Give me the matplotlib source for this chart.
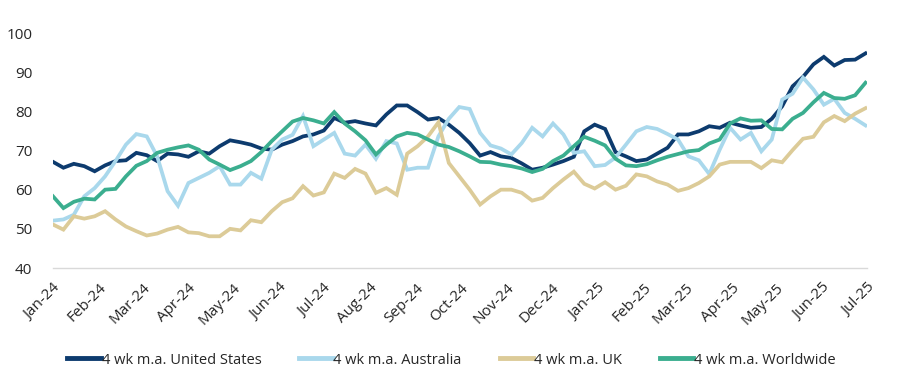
import numpy as np
import pandas as pd
import matplotlib
matplotlib.use("Agg")
import matplotlib.pyplot as plt
import matplotlib.dates as mdates

plt.rcParams['font.family'] = ['Open Sans', 'DejaVu Sans']

dates = pd.date_range("2024-01-01", periods=79, freq="7D")

us = [67.1, 65.6, 66.6, 66.0, 64.7, 66.2, 67.3, 67.5, 69.4, 68.8,
      67.3, 69.2, 69.0, 68.4, 69.8, 69.2, 71.1, 72.6, 72.1, 71.5,
      70.5, 70.2, 71.5, 72.4, 73.6, 74.1, 75.1, 78.3, 77.1, 77.5,
      76.9, 76.4, 79.2, 81.5, 81.5, 79.8, 77.9, 78.3, 76.6, 74.5,
      71.9, 68.7, 69.6, 68.5, 68.1, 66.7, 65.1, 65.6, 66.4, 67.3,
      68.4, 74.9, 76.6, 75.5, 69.6, 68.5, 67.3, 67.7, 69.2, 70.7,
      74.1, 74.1, 74.9, 76.2, 75.8, 77.1, 76.4, 75.8, 76.0, 78.1,
      81.3, 86.4, 88.8, 92.0, 93.9, 91.7, 93.1, 93.2, 94.8]

australia = [52.1, 52.4, 53.6, 58.3, 60.4, 63.4, 67.3, 71.5, 74.2, 73.6,
             68.5, 59.6, 55.9, 61.7, 63.0, 64.3, 66.0, 61.3, 61.3, 64.3,
             62.8, 70.2, 72.8, 74.0, 78.8, 71.1, 72.8, 74.5, 69.2, 68.7,
             71.5, 67.9, 72.4, 71.8, 65.1, 65.6, 65.6, 73.6, 78.1, 81.1,
             80.6, 74.5, 71.3, 70.5, 69.0, 71.9, 75.8, 73.6, 76.9, 74.1,
             69.4, 69.8, 66.0, 66.3, 68.2, 71.5, 74.9, 76.0, 75.5, 74.2,
             72.8, 68.5, 67.5, 64.0, 70.2, 75.8, 72.8, 74.5, 69.8, 72.8,
             83.0, 84.5, 88.6, 85.6, 81.7, 83.2, 79.6, 78.1, 76.4]

uk = [51.1, 49.8, 53.2, 52.6, 53.2, 54.5, 52.4, 50.6, 49.4, 48.3,
      48.8, 49.8, 50.5, 49.1, 48.9, 48.1, 48.1, 50.0, 49.6, 52.2,
      51.7, 54.5, 56.8, 57.8, 60.9, 58.5, 59.3, 64.1, 63.0, 65.3,
      64.1, 59.2, 60.4, 58.7, 69.2, 71.1, 73.6, 77.2, 66.8, 63.4,
      60.0, 56.2, 58.3, 60.0, 60.0, 59.2, 57.2, 57.9, 60.4, 62.6,
      64.6, 61.5, 60.3, 61.9, 60.0, 61.0, 63.9, 63.4, 62.1, 61.3,
      59.7, 60.4, 61.7, 63.4, 66.4, 67.1, 67.1, 67.1, 65.5, 67.5,
      67.0, 70.1, 73.0, 73.5, 77.2, 78.8, 77.5, 79.4, 80.8]

worldwide = [58.3, 55.3, 56.9, 57.7, 57.5, 60.0, 60.2, 63.4, 66.1, 67.3,
             69.4, 70.2, 70.8, 71.3, 70.2, 67.7, 66.4, 65.0, 66.0, 67.3,
             69.6, 72.4, 74.9, 77.4, 78.3, 77.7, 76.9, 79.8, 76.9, 74.9,
             72.6, 69.0, 71.5, 73.6, 74.5, 74.1, 72.8, 71.5, 70.9, 69.8,
             68.5, 67.1, 67.0, 66.4, 66.0, 65.4, 64.5, 65.3, 67.3, 68.7,
             71.1, 73.5, 72.5, 71.3, 67.9, 66.2, 66.0, 66.5, 67.5, 68.4,
             69.1, 69.8, 70.1, 71.8, 72.8, 76.9, 78.2, 77.6, 77.7, 75.5,
             75.4, 78.1, 79.6, 82.3, 84.7, 83.4, 83.2, 84.1, 87.3]

series_names = ["4 wk m.a. United States", "4 wk m.a. Australia",
                "4 wk m.a. UK", "4 wk m.a. Worldwide"]
colors = ["#0d3b6e", "#a9d8ec", "#dccb98", "#3bae8f"]

fig = plt.figure(figsize=(9.03, 3.91), dpi=100)
ax = fig.add_axes([53/903, 1-268/391, (867-53)/903, (268-33)/391])

for vals, name, c in zip([us, australia, uk, worldwide], series_names, colors):
    ax.plot(dates, vals, color=c, lw=2.7, label=name, solid_joinstyle='miter')

ax.set_xlim(dates[0], pd.Timestamp("2025-07-01"))
ax.set_ylim(40, 100)
ax.set_yticks(range(40, 101, 10))
ax.xaxis.set_major_locator(mdates.MonthLocator())
ax.xaxis.set_major_formatter(mdates.DateFormatter("%b-%y"))

for s in ["top", "right", "left"]:
    ax.spines[s].set_visible(False)
ax.spines["bottom"].set_color("#d9d9d9")
ax.spines["bottom"].set_linewidth(1.0)
ax.tick_params(axis="both", length=0, labelsize=11, colors="#262626")
ax.tick_params(axis="y", pad=15)
ax.tick_params(axis="x", pad=9)
for lbl in ax.get_xticklabels():
    lbl.set_rotation(45)
    lbl.set_ha("right")
    lbl.set_rotation_mode("anchor")

leg = fig.legend(loc="center", bbox_to_anchor=(0.5, 1-360/391), ncol=4,
                 frameon=False, fontsize=10.5, handlelength=2.3,
                 handletextpad=0.05, columnspacing=2.6)
for t in leg.get_texts():
    t.set_color("#262626")
for h in leg.get_lines():
    h.set_linewidth(3.5)

fig.savefig("out.png", dpi=100)
